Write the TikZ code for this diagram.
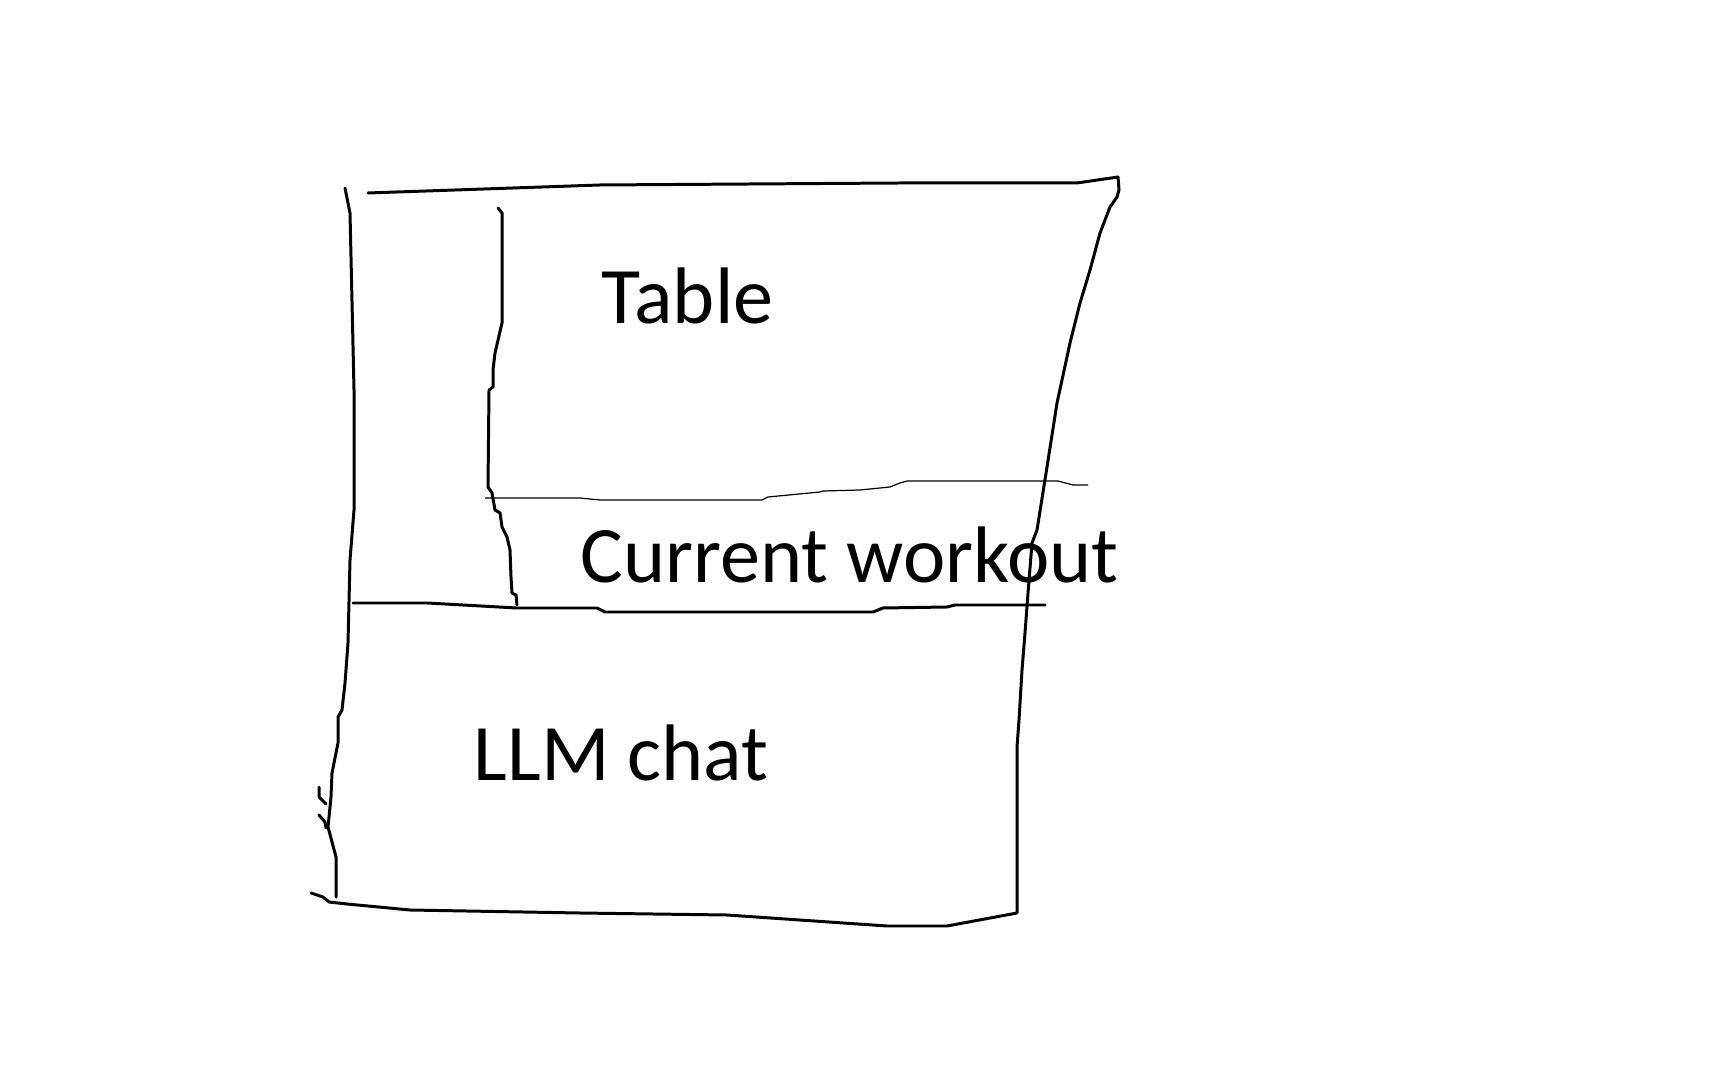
\documentclass[tikz,border=0pt]{standalone}
\usepackage{fontspec}
\setmainfont{Carlito}
\usepackage{tikz}
\tikzset{
  pen/.style={line width=0.85pt, line join=round, line cap=round},
  thinpen/.style={line width=0.35pt, line join=round},
  lbl/.style={font=\fontsize{22.8}{27}\selectfont, inner sep=0pt, anchor=base west},
}
\begin{document}
\begin{tikzpicture}[x=0.01cm, y=-0.01cm]
\useasboundingbox (0,0) rectangle (1728,1080);

% outer frame
\draw[pen] (345,188) -- (350,213) -- (354,390) -- (354,510) -- (350,560) -- (348,643)
  -- (345,683) -- (342,710) -- (338,717) -- (338,743) -- (332,773) -- (331,797)
  -- (328,827) -- (336,857) -- (336,897);
\draw[pen] (319,787) -- (319,797) -- (326,804);
\draw[pen] (319,815) -- (325,822) -- (326,828);
\draw[pen] (368,193) -- (600,185) -- (900,183) -- (1077,183) -- (1118,177) -- (1119,190)
  -- (1117,197) -- (1110,207) -- (1100,233) -- (1090,270) -- (1080,303) -- (1070,343)
  -- (1057,403) -- (1047,467) -- (1037,530) -- (1032,543) -- (1028,593) -- (1025,633)
  -- (1022,670) -- (1019,720) -- (1017,747) -- (1017,913) -- (947,926) -- (887,926)
  -- (727,915) -- (580,913) -- (410,910) -- (347,904) -- (329,902) -- (323,897) -- (311,893);

% inner divider
\draw[pen] (498,208) -- (502,213) -- (502,323) -- (495,353) -- (493,370) -- (493,387)
  -- (489,390) -- (488,487) -- (492,493) -- (495,510) -- (500,513) -- (502,527)
  -- (507,537) -- (510,550) -- (511,577) -- (512,593) -- (516,595) -- (517,605);

% horizontal dividers
\draw[thinpen] (485,498) -- (580,498) -- (600,500) -- (762,500) -- (768,497) -- (820,492)
  -- (823,491) -- (860,490) -- (890,487) -- (900,483) -- (907,481) -- (1058,481)
  -- (1073,485) -- (1088,485);
\draw[pen] (353,603) -- (427,603) -- (517,608) -- (597,608) -- (605,612) -- (873,612)
  -- (883,608) -- (947,607) -- (955,605) -- (1045,605);

\node[lbl] (table) at (601,324) {Table};
\node[lbl] (workout) at (580,583) {Current workout};
\node[lbl] (chat) at (473,781) {LLM chat};

\end{tikzpicture}
\end{document}
